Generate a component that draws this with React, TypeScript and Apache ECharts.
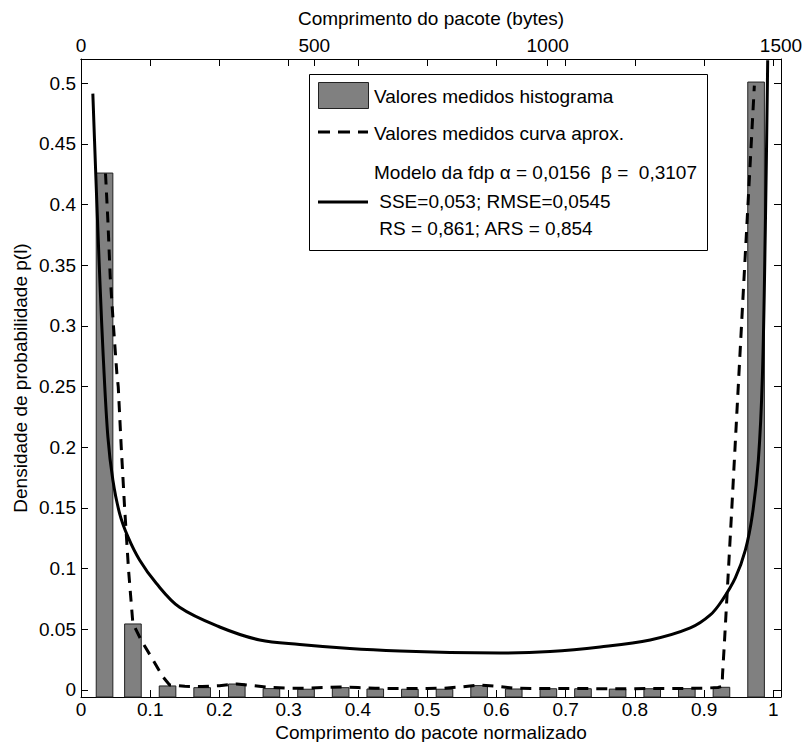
import React, { useEffect, useRef } from 'react';
import * as echarts from 'echarts';

// ---- data ----
const barCenters = [0.034, 0.075, 0.125, 0.175, 0.225, 0.275, 0.325, 0.375, 0.425, 0.475, 0.525, 0.575, 0.625, 0.675, 0.725, 0.775, 0.825, 0.875, 0.925, 0.975];
const barHeights = [0.426, 0.0544, 0.0033, 0.0019, 0.0049, 0.0011, 0.0006, 0.0019, 0.0008, 0.0006, 0.0006, 0.0036, 0.0008, 0.001, 0.001, 0.0007, 0.001, 0.0011, 0.0022, 0.501];

const curveX = [0.0354, 0.0388, 0.0422, 0.047, 0.0518, 0.0538, 0.0581, 0.0629, 0.0687, 0.0749, 0.087, 0.104, 0.118, 0.128, 0.15, 0.175, 0.2, 0.225, 0.25, 0.275, 0.3, 0.325, 0.35, 0.375, 0.4, 0.425, 0.45, 0.475, 0.5, 0.525, 0.55, 0.575, 0.6, 0.625, 0.65, 0.675, 0.7, 0.725, 0.75, 0.775, 0.8, 0.825, 0.85, 0.875, 0.9, 0.92, 0.926, 0.9265, 0.9275, 0.929, 0.94, 0.95, 0.96, 0.9725];
const curveY = [0.4256, 0.387, 0.3405, 0.299, 0.2609, 0.2498, 0.2004, 0.151, 0.0988, 0.0549, 0.041, 0.0247, 0.011, 0.0041, 0.003, 0.0028, 0.0035, 0.005, 0.0035, 0.002, 0.0015, 0.0015, 0.002, 0.0025, 0.002, 0.0015, 0.0012, 0.0012, 0.0012, 0.0015, 0.0025, 0.004, 0.003, 0.0015, 0.0012, 0.0012, 0.0012, 0.0012, 0.001, 0.001, 0.001, 0.0012, 0.0012, 0.0013, 0.0015, 0.002, 0.003, 0.012, 0.022, 0.036, 0.15, 0.258, 0.365, 0.498];

const modelX = [0.0171, 0.021, 0.0243, 0.0278, 0.0321, 0.0388, 0.046, 0.0557, 0.0677, 0.0846, 0.1087, 0.1424, 0.2003, 0.2581, 0.3159, 0.3883, 0.4606, 0.5329, 0.6052, 0.6775, 0.7498, 0.8221, 0.88, 0.9089, 0.9263, 0.945, 0.9595, 0.9696, 0.9783, 0.9841, 0.9884, 0.9918];
const modelY = [0.4915, 0.43, 0.38, 0.33, 0.275, 0.2087, 0.173, 0.1456, 0.1263, 0.1071, 0.0879, 0.0681, 0.0519, 0.0412, 0.0375, 0.0342, 0.0321, 0.0309, 0.0305, 0.0317, 0.0354, 0.0412, 0.0511, 0.0618, 0.0741, 0.0923, 0.1153, 0.1442, 0.1895, 0.2578, 0.3814, 0.519];

const xRange = [0, 1.011];
const bytesRange = [0, 1500];
const yRange = [-0.0058, 0.52];

const legendLabels = [
  'Valores medidos histograma',
  'Valores medidos curva aprox.',
  'Modelo da fdp \u03b1 = 0,0156  \u03b2 =  0,3107',
  ' SSE=0,053; RMSE=0,0545',
  ' RS = 0,861; ARS = 0,854',
];
const xName = 'Comprimento do pacote normalizado';
const topName = 'Comprimento do pacote (bytes)';
const yName = 'Densidade de probabilidade p(l)';

const FONT = '"Liberation Sans", Arial, Helvetica, sans-serif';
const FS = 19;

export default function App() {
  const ref = useRef<HTMLDivElement>(null);
  useEffect(() => {
    document.body.style.margin = '0';
    const chart = echarts.init(ref.current!, null, { renderer: 'svg' });
    const txt = { color: '#000', fontSize: FS, fontFamily: FONT };
    const baseAxis = {
      axisLine: { show: true, onZero: false, lineStyle: { color: '#000', width: 1 } },
      axisTick: { show: true, inside: true, length: 7, lineStyle: { color: '#000', width: 1 } },
      splitLine: { show: false },
    };
    const fmtX = (v: number) => (Math.abs(v * 10 - Math.round(v * 10)) < 1e-6 ? String(+v.toFixed(1)) : '');
    const fmtY = (v: number) => (Math.abs(v * 20 - Math.round(v * 20)) < 1e-6 ? String(+v.toFixed(2)) : '');
    const fmtB = (v: number) => String(Math.round(v));
    const barW = 0.024;
    const font = `${FS}px ${FONT}`;
    const option: any = {
      animation: false,
      backgroundColor: '#fff',
      grid: { left: 81, right: 22, top: 59, bottom: 45, containLabel: false, outerBoundsMode: 'none' },
      xAxis: [
        {
          type: 'value', position: 'bottom', min: xRange[0], max: xRange[1], splitNumber: 10,
          ...baseAxis,
          axisLabel: { ...txt, margin: 3, formatter: fmtX },
        },
        {
          type: 'value', position: 'top', min: xRange[0], max: xRange[1], splitNumber: 10,
          ...baseAxis,
          axisLabel: { show: false },
        },
        {
          type: 'value', position: 'top', min: bytesRange[0], max: bytesRange[1], splitNumber: 3,
          ...baseAxis,
          axisLabel: { ...txt, margin: 4, formatter: fmtB, showMinLabel: true, showMaxLabel: true },
        },
      ],
      yAxis: [
        {
          type: 'value', position: 'left', min: yRange[0], max: yRange[1], splitNumber: 10,
          ...baseAxis,
          axisLabel: { ...txt, margin: 5, formatter: fmtY },
        },
        {
          type: 'value', position: 'right', min: yRange[0], max: yRange[1], splitNumber: 10,
          ...baseAxis,
          axisLabel: { show: false },
        },
      ],
      series: [
        {
          type: 'custom',
          xAxisIndex: 0, yAxisIndex: 0,
          data: barCenters.map((x, i) => [x, barHeights[i]]),
          encode: { x: 0, y: 1 },
          renderItem: (params: any, api: any) => {
            const x = api.value(0);
            const y = api.value(1);
            const top = api.coord([x, y]);
            const bottom = api.coord([x, yRange[0]]);
            const w = api.size([barW, 0])[0];
            return {
              type: 'rect',
              shape: { x: top[0] - w / 2, y: top[1], width: w, height: bottom[1] - top[1] },
              style: { fill: '#808080', stroke: '#222', lineWidth: 1 },
            };
          },
          z: 1,
        },
        {
          type: 'line', xAxisIndex: 0, yAxisIndex: 0,
          data: curveX.map((x, i) => [x, curveY[i]]),
          showSymbol: false, symbol: 'none',
          lineStyle: { color: '#000', width: 3, type: [11, 8] },
          z: 3,
        },
        {
          type: 'line', xAxisIndex: 0, yAxisIndex: 0,
          data: modelX.map((x, i) => [x, modelY[i]]),
          showSymbol: false, symbol: 'none', smooth: 0.35,
          lineStyle: { color: '#000', width: 3 },
          z: 4,
        },
      ],
      graphic: [
        { type: 'text', x: 431, y: 732, style: { text: xName, fill: '#000', font, align: 'center', verticalAlign: 'middle' } },
        { type: 'text', x: 431, y: 18, style: { text: topName, fill: '#000', font, align: 'center', verticalAlign: 'middle' } },
        { type: 'text', x: 20, y: 378, rotation: Math.PI / 2, style: { text: yName, fill: '#000', font, align: 'center', verticalAlign: 'middle' } },
        {
          type: 'group', z: 100,
          children: [
            { type: 'rect', shape: { x: 309.5, y: 74.5, width: 398, height: 176 }, style: { fill: '#fff', stroke: '#000', lineWidth: 1 } },
            { type: 'rect', shape: { x: 318.5, y: 82.5, width: 50, height: 26 }, style: { fill: '#808080', stroke: '#222', lineWidth: 1 } },
            { type: 'line', shape: { x1: 318, y1: 132, x2: 368, y2: 132 }, style: { stroke: '#000', lineWidth: 3, lineDash: [12, 8] } },
            { type: 'line', shape: { x1: 318, y1: 202, x2: 368, y2: 202 }, style: { stroke: '#000', lineWidth: 3 } },
            { type: 'text', x: 374, y: 96, style: { text: legendLabels[0], fill: '#000', font, verticalAlign: 'middle' } },
            { type: 'text', x: 374, y: 133, style: { text: legendLabels[1], fill: '#000', font, verticalAlign: 'middle' } },
            { type: 'text', x: 374, y: 172, style: { text: legendLabels[2], fill: '#000', font, verticalAlign: 'middle' } },
            { type: 'text', x: 374, y: 201, style: { text: legendLabels[3], fill: '#000', font, verticalAlign: 'middle' } },
            { type: 'text', x: 374, y: 228, style: { text: legendLabels[4], fill: '#000', font, verticalAlign: 'middle' } },
          ],
        },
      ],
    };
    chart.setOption(option);
    return () => chart.dispose();
  }, []);
  return <div ref={ref} style={{ width: 803, height: 742 }} />;
}
